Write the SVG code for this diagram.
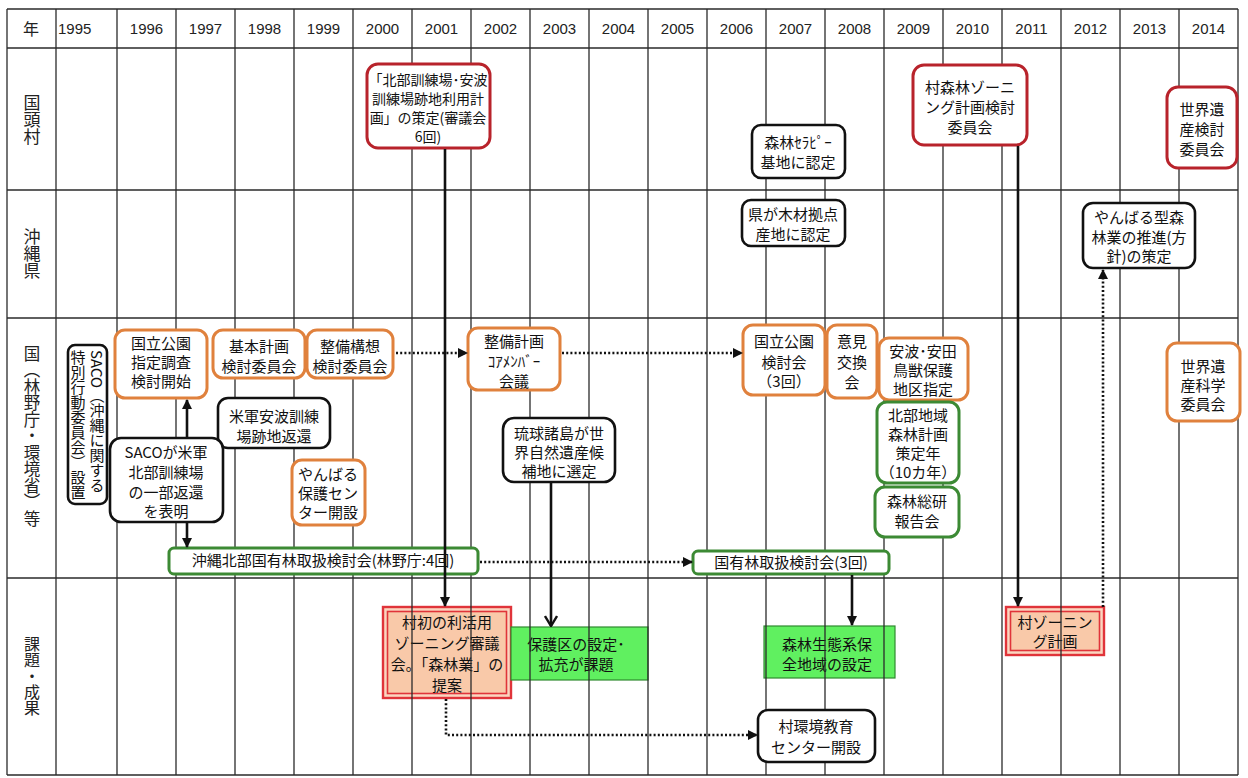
<svg xmlns="http://www.w3.org/2000/svg" width="1248" height="778" viewBox="0 0 1248 778">
  <style>
    .bg { fill: #ffffff; }
    .grid line { stroke: #2a2a2a; stroke-width: 1.3; }
    .yr { font-family: "Liberation Sans", Arial, sans-serif; font-size: 15px; fill: #222; text-anchor: middle; }
    .lbl { font-family: "Noto Sans CJK JP", "Noto Sans CJK SC", sans-serif; font-size: 17px; fill: #222; text-anchor: middle; }
    .vlbl { writing-mode: vertical-rl; }
    .t { font-family: "Noto Sans CJK JP", "Noto Sans CJK SC", sans-serif; font-size: 15px; fill: #111; text-anchor: middle; }
    .ts { font-size: 14px; }
    .b-red { fill: #fff; stroke: #b8232b; stroke-width: 3; }
    .b-org { fill: #fff; stroke: #e0813d; stroke-width: 3; }
    .b-blk { fill: #fff; stroke: #111; stroke-width: 2.6; }
    .b-grn { fill: #fff; stroke: #3c8a34; stroke-width: 3; }
    .b-lime { fill: #60f060; stroke: #2f8a2f; stroke-width: 1.2; }
    .b-peach-o { fill: #fbd6c0; stroke: #e0343a; stroke-width: 2.4; }
    .b-peach-i { fill: #f9c9a9; stroke: #e0343a; stroke-width: 1.6; }
    .c { fill: none; stroke: #111; stroke-width: 2.6; }
    .dot { stroke-dasharray: 2 2.2; }
  </style>
  <defs>
    <marker id="ah" viewBox="0 0 10 10" refX="9" refY="5" markerWidth="11" markerHeight="10" markerUnits="userSpaceOnUse" orient="auto">
      <path d="M0,0 L10,5 L0,10 z" fill="#111"/>
    </marker>
    <marker id="av" viewBox="0 0 12 14" refX="11" refY="7" markerWidth="12" markerHeight="14" markerUnits="userSpaceOnUse" orient="auto">
      <path d="M1,1 L11,7 L1,13" fill="none" stroke="#111" stroke-width="2.4"/>
    </marker>
  </defs>

  <rect class="bg" x="0" y="0" width="1248" height="778"/>

  <!-- filled result boxes sit under the grid so the year lines show through -->
  <g id="n-village-zoning-council">
    <rect class="b-peach-o" x="383" y="607" width="128" height="91"/>
    <rect class="b-peach-i" x="387.5" y="611.5" width="119" height="82"/>
    <text class="t" x="447" y="628">村初の利活用</text>
    <text class="t" x="447" y="649">ゾーニング審議</text>
    <text class="t" x="447" y="670">会｡「森林業」の</text>
    <text class="t" x="447" y="691">提案</text>
  </g>
  <g id="n-protect-area">
    <rect class="b-lime" x="511" y="627" width="137" height="53"/>
    <text class="t" x="576" y="650">保護区の設定･</text>
    <text class="t" x="576" y="670">拡充が課題</text>
  </g>
  <g id="n-eco-area">
    <rect class="b-lime" x="764" y="626" width="131" height="52"/>
    <text class="t" x="827" y="650">森林生態系保</text>
    <text class="t" x="827" y="670">全地域の設定</text>
  </g>
  <g id="n-village-zoning">
    <rect class="b-peach-o" x="1006" y="607" width="98" height="48"/>
    <rect class="b-peach-i" x="1010.5" y="611.5" width="89" height="39"/>
    <text class="t" x="1055" y="628">村ゾーニン</text>
    <text class="t" x="1055" y="647">グ計画</text>
  </g>

  <!-- table grid -->
  <g class="grid">
    <line x1="7" y1="9" x2="1238" y2="9"/>
    <line x1="7" y1="48" x2="1238" y2="48"/>
    <line x1="7" y1="190" x2="1238" y2="190"/>
    <line x1="7" y1="318" x2="1238" y2="318"/>
    <line x1="7" y1="578" x2="1238" y2="578"/>
    <line x1="7" y1="775" x2="1238" y2="775"/>
    <line x1="7" y1="9" x2="7" y2="775"/>
    <line x1="56" y1="9" x2="56" y2="775"/>
    <line x1="117" y1="9" x2="117" y2="775"/>
    <line x1="176" y1="9" x2="176" y2="775"/>
    <line x1="235" y1="9" x2="235" y2="775"/>
    <line x1="294" y1="9" x2="294" y2="775"/>
    <line x1="353" y1="9" x2="353" y2="775"/>
    <line x1="412" y1="9" x2="412" y2="775"/>
    <line x1="471" y1="9" x2="471" y2="775"/>
    <line x1="530" y1="9" x2="530" y2="775"/>
    <line x1="589" y1="9" x2="589" y2="775"/>
    <line x1="648" y1="9" x2="648" y2="775"/>
    <line x1="707" y1="9" x2="707" y2="775"/>
    <line x1="766" y1="9" x2="766" y2="775"/>
    <line x1="825" y1="9" x2="825" y2="775"/>
    <line x1="884" y1="9" x2="884" y2="775"/>
    <line x1="943" y1="9" x2="943" y2="775"/>
    <line x1="1002" y1="9" x2="1002" y2="775"/>
    <line x1="1061" y1="9" x2="1061" y2="775"/>
    <line x1="1120" y1="9" x2="1120" y2="775"/>
    <line x1="1179" y1="9" x2="1179" y2="775"/>
    <line x1="1238" y1="9" x2="1238" y2="775"/>
  </g>

  <!-- header and row labels -->
  <g id="header">
    <text class="lbl" x="31" y="35" style="font-size:16px">年</text>
    <text class="yr" x="58" y="34" style="text-anchor:start">1995</text>
    <text class="yr" x="146.5" y="34">1996</text>
    <text class="yr" x="205.5" y="34">1997</text>
    <text class="yr" x="264.5" y="34">1998</text>
    <text class="yr" x="323.5" y="34">1999</text>
    <text class="yr" x="382.5" y="34">2000</text>
    <text class="yr" x="441.5" y="34">2001</text>
    <text class="yr" x="500.5" y="34">2002</text>
    <text class="yr" x="559.5" y="34">2003</text>
    <text class="yr" x="618.5" y="34">2004</text>
    <text class="yr" x="677.5" y="34">2005</text>
    <text class="yr" x="736.5" y="34">2006</text>
    <text class="yr" x="795.5" y="34">2007</text>
    <text class="yr" x="854.5" y="34">2008</text>
    <text class="yr" x="913.5" y="34">2009</text>
    <text class="yr" x="972.5" y="34">2010</text>
    <text class="yr" x="1031.5" y="34">2011</text>
    <text class="yr" x="1090.5" y="34">2012</text>
    <text class="yr" x="1149.5" y="34">2013</text>
    <text class="yr" x="1208.5" y="34">2014</text>
  </g>
  <g id="row-labels">
    <text class="lbl vlbl" x="32" y="120">国頭村</text>
    <text class="lbl vlbl" x="32" y="254">沖縄県</text>
    <text class="lbl vlbl" x="32" y="436" style="font-size:16.5px">国（林野庁・環境省）等</text>
    <text class="lbl vlbl" x="32" y="676" style="font-size:16px">課題・成果</text>
  </g>

  <!-- Kunigami village row -->
  <g id="n-hokubu-plan">
    <rect class="b-red" x="367" y="64" width="123" height="84" rx="11"/>
    <text class="t ts" x="428" y="85">「北部訓練場･安波</text>
    <text class="t ts" x="428" y="104">訓練場跡地利用計</text>
    <text class="t ts" x="428" y="123">画」の策定(審議会</text>
    <text class="t ts" x="428" y="142">6回)</text>
  </g>
  <g id="n-forest-therapy">
    <rect class="b-blk" x="752" y="125" width="93" height="53" rx="9"/>
    <text class="t" x="798" y="148">森林ｾﾗﾋﾟｰ</text>
    <text class="t" x="798" y="168">基地に認定</text>
  </g>
  <g id="n-zoning-committee">
    <rect class="b-red" x="913" y="65" width="114" height="80" rx="11"/>
    <text class="t" x="970" y="93">村森林ゾーニ</text>
    <text class="t" x="970" y="113">ング計画検討</text>
    <text class="t" x="970" y="133">委員会</text>
  </g>
  <g id="n-wh-committee">
    <rect class="b-red" x="1167" y="87" width="70" height="81" rx="11"/>
    <text class="t" x="1202" y="115">世界遺</text>
    <text class="t" x="1202" y="135">産検討</text>
    <text class="t" x="1202" y="155">委員会</text>
  </g>

  <!-- Okinawa prefecture row -->
  <g id="n-timber-base">
    <rect class="b-blk" x="742" y="200" width="103" height="46" rx="9"/>
    <text class="t" x="793" y="220">県が木材拠点</text>
    <text class="t" x="793" y="240">産地に認定</text>
  </g>
  <g id="n-yanbaru-forestry">
    <rect class="b-blk" x="1083" y="203" width="112" height="65" rx="10"/>
    <text class="t" x="1139" y="223">やんばる型森</text>
    <text class="t" x="1139" y="243">林業の推進(方</text>
    <text class="t" x="1139" y="262">針)の策定</text>
  </g>

  <!-- national government row -->
  <g id="n-saco-committee">
    <rect class="b-blk" x="68" y="345" width="39" height="159" rx="7"/>
    <text class="t vlbl" x="97" y="350" style="text-anchor:start">SACO（沖縄に関する</text>
    <text class="t vlbl" x="78" y="350" style="text-anchor:start">特別行動委員会）設置</text>
  </g>
  <g id="n-np-survey">
    <rect class="b-org" x="115" y="330" width="92" height="68" rx="10"/>
    <text class="t" x="161" y="349">国立公園</text>
    <text class="t" x="161" y="368">指定調査</text>
    <text class="t" x="161" y="387">検討開始</text>
  </g>
  <g id="n-basic-plan">
    <rect class="b-org" x="213" y="330" width="92" height="48" rx="10"/>
    <text class="t" x="259" y="352">基本計画</text>
    <text class="t" x="259" y="372">検討委員会</text>
  </g>
  <g id="n-concept-plan">
    <rect class="b-org" x="307" y="330" width="86" height="48" rx="10"/>
    <text class="t" x="350" y="352">整備構想</text>
    <text class="t" x="350" y="372">検討委員会</text>
  </g>
  <g id="n-core-meeting">
    <rect class="b-org" x="468" y="328" width="92" height="62" rx="10"/>
    <text class="t" x="514" y="347">整備計画</text>
    <text class="t" x="514" y="367">ｺｱﾒﾝﾊﾞｰ</text>
    <text class="t" x="514" y="387">会議</text>
  </g>
  <g id="n-np-review">
    <rect class="b-org" x="743" y="325" width="82" height="70" rx="10"/>
    <text class="t" x="784" y="347">国立公園</text>
    <text class="t" x="784" y="368">検討会</text>
    <text class="t" x="784" y="387">（3回）</text>
  </g>
  <g id="n-opinion">
    <rect class="b-org" x="827" y="325" width="50" height="73" rx="10"/>
    <text class="t" x="852" y="347">意見</text>
    <text class="t" x="852" y="368">交換</text>
    <text class="t" x="852" y="388">会</text>
  </g>
  <g id="n-wildlife-area">
    <rect class="b-org" x="879" y="338" width="89" height="62" rx="10"/>
    <text class="t" x="923" y="357">安波･安田</text>
    <text class="t" x="923" y="376">鳥獣保護</text>
    <text class="t" x="923" y="395">地区指定</text>
  </g>
  <g id="n-usarmy-return">
    <rect class="b-blk" x="218" y="398" width="112" height="50" rx="10"/>
    <text class="t" x="274" y="422">米軍安波訓練</text>
    <text class="t" x="274" y="442">場跡地返還</text>
  </g>
  <g id="n-saco-announce">
    <rect class="b-blk" x="110" y="438" width="113" height="84" rx="11"/>
    <text class="t" x="166" y="458">SACOが米軍</text>
    <text class="t" x="166" y="478">北部訓練場</text>
    <text class="t" x="166" y="498">の一部返還</text>
    <text class="t" x="166" y="517">を表明</text>
  </g>
  <g id="n-yanbaru-center">
    <rect class="b-org" x="292" y="460" width="73" height="65" rx="10"/>
    <text class="t" x="328" y="480">やんばる</text>
    <text class="t" x="328" y="499">保護セン</text>
    <text class="t" x="328" y="518">ター開設</text>
  </g>
  <g id="n-ryukyu">
    <rect class="b-blk" x="503" y="418" width="112" height="64" rx="11"/>
    <text class="t" x="559" y="439">琉球諸島が世</text>
    <text class="t" x="559" y="458">界自然遺産候</text>
    <text class="t" x="559" y="477">補地に選定</text>
  </g>
  <g id="n-north-forest-plan">
    <rect class="b-grn" x="877" y="402" width="82" height="81" rx="10"/>
    <text class="t" x="918" y="421">北部地域</text>
    <text class="t" x="918" y="440">森林計画</text>
    <text class="t" x="918" y="459">策定年</text>
    <text class="t" x="918" y="478">（10カ年）</text>
  </g>
  <g id="n-ffpri-report">
    <rect class="b-grn" x="875" y="487" width="84" height="50" rx="10"/>
    <text class="t" x="917" y="507">森林総研</text>
    <text class="t" x="917" y="527">報告会</text>
  </g>
  <g id="n-wh-science">
    <rect class="b-org" x="1167" y="343" width="73" height="78" rx="10"/>
    <text class="t" x="1203" y="372">世界遺</text>
    <text class="t" x="1203" y="391">産科学</text>
    <text class="t" x="1203" y="410">委員会</text>
  </g>
  <g id="n-okinawa-nf">
    <rect class="b-grn" x="169" y="548" width="309" height="26" rx="5"/>
    <text class="t" x="323" y="566">沖縄北部国有林取扱検討会(林野庁:4回)</text>
  </g>
  <g id="n-nf-review">
    <rect class="b-grn" x="693" y="551" width="196" height="23" rx="5"/>
    <text class="t" x="791" y="568">国有林取扱検討会(3回)</text>
  </g>

  <!-- results row (outlined) -->
  <g id="n-edu-center">
    <rect class="b-blk" x="758" y="710" width="117" height="52" rx="10"/>
    <text class="t" x="816" y="732">村環境教育</text>
    <text class="t" x="816" y="753">センター開設</text>
  </g>

  <!-- connectors -->
  <g id="connectors">
    <line class="c" x1="445" y1="149" x2="445" y2="606" marker-end="url(#ah)"/>
    <line class="c" x1="1018" y1="146" x2="1018" y2="606" marker-end="url(#ah)"/>
    <line class="c dot" x1="1103" y1="607" x2="1103" y2="270" marker-end="url(#ah)"/>
    <line class="c" x1="187" y1="437" x2="187" y2="400" marker-end="url(#ah)"/>
    <line class="c" x1="187" y1="523" x2="187" y2="547" marker-end="url(#ah)"/>
    <line class="c dot" x1="396" y1="353" x2="467" y2="353" marker-end="url(#ah)"/>
    <line class="c dot" x1="562" y1="353" x2="742" y2="353" marker-end="url(#ah)"/>
    <line class="c" x1="551" y1="483" x2="551" y2="626" marker-end="url(#av)"/>
    <line class="c dot" x1="480" y1="562" x2="692" y2="562" marker-end="url(#ah)"/>
    <line class="c" x1="852" y1="575" x2="852" y2="625" marker-end="url(#ah)"/>
    <polyline class="c dot" points="446,699 446,735 757,735" marker-end="url(#ah)"/>
  </g>
</svg>
